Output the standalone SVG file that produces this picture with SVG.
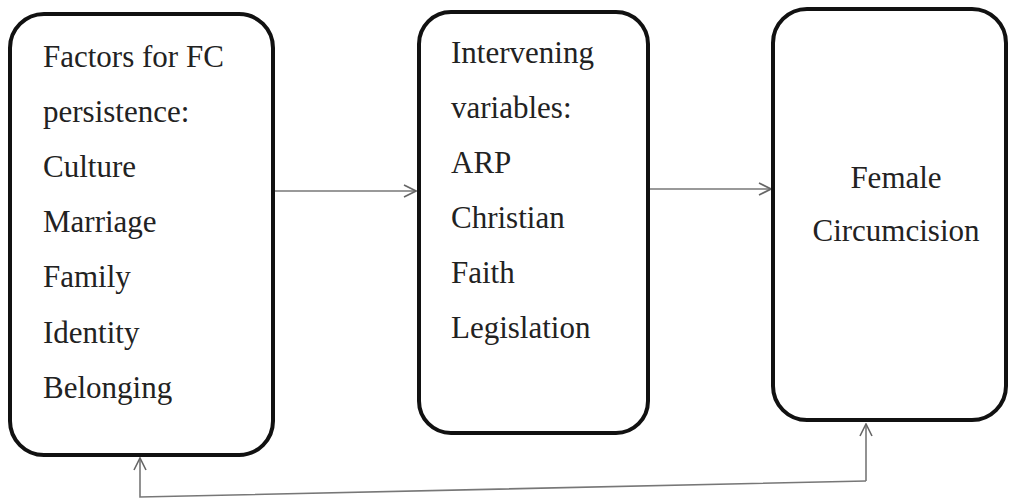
<svg xmlns="http://www.w3.org/2000/svg" width="1010" height="498" viewBox="0 0 1010 498">
<defs>
<style>
.box{fill:none;stroke:#111;stroke-width:4}
.t{font-family:"Liberation Serif","Times New Roman",serif;font-size:31px;fill:#222}
.c{fill:none;stroke:#777;stroke-width:1.6}
</style>
<marker id="ah" viewBox="0 0 14 14" refX="13" refY="7" markerWidth="14" markerHeight="14" markerUnits="userSpaceOnUse" orient="auto">
<path d="M1,1 L13,7 L1,13" fill="none" stroke="#666" stroke-width="1.6"/>
</marker>
</defs>
<rect width="1010" height="498" fill="#fff"/>
<g id="connectors">
<line class="c" x1="274" y1="191" x2="416" y2="191" marker-end="url(#ah)"/>
<line class="c" x1="648" y1="189" x2="771" y2="189" marker-end="url(#ah)"/>
<path class="c" d="M866,481 L140,497 L140,458" marker-end="url(#ah)"/>
<path class="c" d="M866,481 L866,424" marker-end="url(#ah)"/>
</g>
<g id="node-factors">
<rect class="box" x="10" y="14" width="263" height="441" rx="34"/>
<text class="t" x="43" y="67">Factors for FC</text>
<text class="t" x="43" y="122">persistence:</text>
<text class="t" x="43" y="177">Culture</text>
<text class="t" x="43" y="232">Marriage</text>
<text class="t" x="43" y="287">Family</text>
<text class="t" x="43" y="343">Identity</text>
<text class="t" x="43" y="398">Belonging</text>
</g>
<g id="node-intervening">
<rect class="box" x="419" y="12" width="229" height="421" rx="32"/>
<text class="t" x="451" y="63">Intervening</text>
<text class="t" x="451" y="118">variables:</text>
<text class="t" x="451" y="173">ARP</text>
<text class="t" x="451" y="228">Christian</text>
<text class="t" x="451" y="283">Faith</text>
<text class="t" x="451" y="338">Legislation</text>
</g>
<g id="node-fc">
<rect class="box" x="773" y="9" width="233" height="411" rx="34"/>
<text class="t" x="896" y="188" text-anchor="middle">Female</text>
<text class="t" x="896" y="241" text-anchor="middle">Circumcision</text>
</g>
</svg>
